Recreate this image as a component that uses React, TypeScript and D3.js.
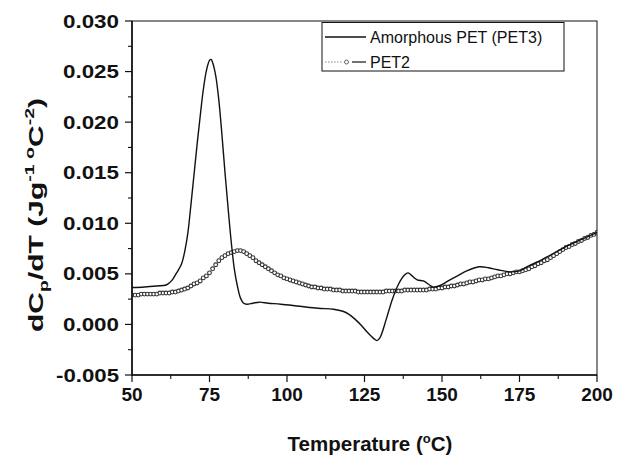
import React from "react";
import * as d3 from "d3";

// ---------- data ----------
const pet3Temps = [50, 54, 58, 61, 62, 63, 64, 65, 66, 67, 68, 69, 70, 71, 72, 73, 74, 75, 75.5, 76, 77, 78, 79, 80, 81, 82, 83, 84, 85, 86, 87, 89, 91, 94, 98, 104, 110, 115, 118, 120, 122, 124, 126, 128, 129, 130, 132, 134, 136, 138, 139, 140, 142, 144, 146, 147, 149, 152, 155, 158, 162, 165, 168, 172, 175, 178, 181, 184, 187, 190, 195, 200];
const pet3Values = [0.00365, 0.0037, 0.0038, 0.0039, 0.0041, 0.0044, 0.0049, 0.0054, 0.0060, 0.0072, 0.0090, 0.0118, 0.0148, 0.0178, 0.0206, 0.0232, 0.0251, 0.0261, 0.0262, 0.0259, 0.0246, 0.0222, 0.0188, 0.0150, 0.0115, 0.0082, 0.0055, 0.0038, 0.0026, 0.0021, 0.0020, 0.0021, 0.0022, 0.0021, 0.0020, 0.0018, 0.0016, 0.0015, 0.0013, 0.0010, 0.0005, -0.0001, -0.0008, -0.0014, -0.0016, -0.0013, 0.0005, 0.0025, 0.0040, 0.0049, 0.0051, 0.0049, 0.0044, 0.0043, 0.0039, 0.0037, 0.0038, 0.0043, 0.0048, 0.0053, 0.0057, 0.0056, 0.0054, 0.0052, 0.0053, 0.0058, 0.0062, 0.0067, 0.0072, 0.0077, 0.0084, 0.0091];

const pet2Temps = d3.range(50, 201, 1);
const pet2Values = [
  0.0029, 0.0029, 0.0029, 0.0030, 0.0030, 0.0030, 0.0030, 0.0030, 0.0030, 0.0031,
  0.0031, 0.0031, 0.0031, 0.0032, 0.0032, 0.0033, 0.0034, 0.0035, 0.0036, 0.0038,
  0.0040, 0.0041, 0.0043, 0.0046, 0.0048, 0.0051, 0.0055, 0.0059, 0.0063, 0.0066,
  0.0068, 0.0070, 0.0071, 0.0072, 0.0073, 0.0073, 0.0072, 0.0070, 0.0068, 0.0066,
  0.0063, 0.0061, 0.0059, 0.0057, 0.0055, 0.0053, 0.0051, 0.0049, 0.0048, 0.0046,
  0.0045, 0.0044, 0.0043, 0.0042, 0.0041, 0.0040, 0.0039, 0.0038, 0.0037, 0.0037,
  0.0036, 0.0036, 0.0035, 0.0035, 0.0035, 0.0034, 0.0034, 0.0034, 0.0033, 0.0033,
  0.0033, 0.0033, 0.0033, 0.0032, 0.0032, 0.0032, 0.0032, 0.0032, 0.0032, 0.0032,
  0.0032, 0.0032, 0.0033, 0.0033, 0.0033, 0.0033, 0.0033, 0.0033, 0.0034, 0.0034,
  0.0034, 0.0034, 0.0034, 0.0034, 0.0034, 0.0034, 0.0035, 0.0035, 0.0035, 0.0036,
  0.0036, 0.0037, 0.0037, 0.0038, 0.0038, 0.0039, 0.0040, 0.0040, 0.0041, 0.0042,
  0.0042, 0.0043, 0.0044, 0.0044, 0.0045, 0.0045, 0.0046, 0.0047, 0.0048, 0.0048,
  0.0049, 0.0050, 0.0050, 0.0051, 0.0052, 0.0052, 0.0053, 0.0054, 0.0055, 0.0057,
  0.0058, 0.0060, 0.0061, 0.0063, 0.0064, 0.0066, 0.0068, 0.0070, 0.0072, 0.0074,
  0.0076, 0.0077, 0.0079, 0.0080, 0.0082, 0.0083, 0.0085, 0.0086, 0.0088, 0.0089,
  0.0091,
];

const xTicks = [50, 75, 100, 125, 150, 175, 200];
const xMinorTicks = [62.5, 87.5, 112.5, 137.5, 162.5, 187.5];
const yTicks = [-0.005, 0, 0.005, 0.01, 0.015, 0.02, 0.025, 0.03];
const yMinorTicks = [-0.0025, 0.0025, 0.0075, 0.0125, 0.0175, 0.0225, 0.0275];
const seriesNames = ["Amorphous PET (PET3)", "PET2"];

// ---------- layout ----------
const W = 617, H = 457;
const L = 132, R = 597, T = 21, B = 375;
const FONT = "'Liberation Sans', Arial, Helvetica, sans-serif";

export default function App() {
  const x = d3.scaleLinear().domain([50, 200]).range([L, R]);
  const y = d3.scaleLinear().domain([-0.005, 0.03]).range([B, T]);

  const pet3 = pet3Temps.map((t, i) => [t, pet3Values[i]] as [number, number]);
  const pet2 = pet2Temps.map((t, i) => [t, pet2Values[i]] as [number, number]);

  const line = d3
    .line<[number, number]>()
    .x((d) => x(d[0]))
    .y((d) => y(d[1]))
    .curve(d3.curveCatmullRom.alpha(0.5));

  return (
    <svg
      width={W}
      height={H}
      style={{ position: "absolute", left: 0, top: 0, background: "#fff" }}
      fontFamily={FONT}
    >
      <rect x={0} y={0} width={W} height={H} fill="#fff" />
      <defs>
        <clipPath id="plotclip">
          <rect x={L} y={T} width={R - L} height={B - T} />
        </clipPath>
      </defs>

      {/* PET2 markers */}
      <g clipPath="url(#plotclip)">
        {pet2.map((d, i) => (
          <circle
            key={i}
            cx={x(d[0])}
            cy={y(d[1])}
            r={1.9}
            fill="#fff"
            stroke="#333"
            strokeWidth={1.1}
          />
        ))}
        <path d={line(pet3) || ""} fill="none" stroke="#111" strokeWidth={1.4} />
      </g>

      {/* frame */}
      <rect x={L} y={T} width={R - L} height={B - T} fill="none" stroke="#111" strokeWidth={1} />
      <line x1={L} x2={L} y1={T} y2={B + 0.5} stroke="#111" strokeWidth={1.6} />
      <line x1={L - 0.5} x2={R} y1={B} y2={B} stroke="#111" strokeWidth={1.6} />

      {/* x ticks */}
      {xTicks.map((t) => (
        <g key={"xt" + t}>
          <line x1={x(t)} x2={x(t)} y1={B} y2={B + 7} stroke="#111" strokeWidth={1.2} />
          <text
            x={x(t)}
            y={401}
            textAnchor="middle"
            fontSize={19}
            fontWeight="bold"
            fill="#111"
          >
            {t}
          </text>
        </g>
      ))}
      {xMinorTicks.map((t) => (
        <line key={"xm" + t} x1={x(t)} x2={x(t)} y1={B} y2={B + 4} stroke="#111" strokeWidth={1.1} />
      ))}

      {/* y ticks */}
      {yTicks.map((t) => {
        const label = d3.format(".3f")(t).replace("−", "-");
        return (
          <g key={"yt" + t}>
            <line x1={L - 7} x2={L} y1={y(t)} y2={y(t)} stroke="#111" strokeWidth={1.2} />
            <text
              x={119}
              y={y(t) + 6.5}
              textAnchor="end"
              fontSize={18}
              fontWeight="bold"
              fill="#111"
              textLength={label.startsWith("-") ? 63 : 56}
              lengthAdjust="spacingAndGlyphs"
            >
              {label}
            </text>
          </g>
        );
      })}
      {yMinorTicks.map((t) => (
        <line key={"ym" + t} x1={L - 4} x2={L} y1={y(t)} y2={y(t)} stroke="#111" strokeWidth={1.1} />
      ))}

      {/* axis titles */}
      <text x={370} y={451} textAnchor="middle" fontSize={20.5} fontWeight="bold" fill="#111">
        Temperature (
        <tspan dy={-8} fontSize={13}>o</tspan>
        <tspan dy={8}>C)</tspan>
      </text>
      <text
        transform={`translate(43,${215}) rotate(-90)`}
        textAnchor="middle"
        fontSize={20}
        fontWeight="bold"
        fill="#111"
        textLength={234}
        lengthAdjust="spacingAndGlyphs"
      >
        dC
        <tspan dy={5} fontSize={13}>p</tspan>
        <tspan dy={-5}>/dT (Jg</tspan>
        <tspan dy={-9} fontSize={13}>-1</tspan>
        <tspan dy={0} fontSize={13}> o</tspan>
        <tspan dy={9}>C</tspan>
        <tspan dy={-9} fontSize={13}>-2</tspan>
        <tspan dy={9}>)</tspan>
      </text>

      {/* legend */}
      <rect x={322} y={22.5} width={242} height={48.5} fill="#fff" stroke="#111" strokeWidth={1} />
      <line x1={325} x2={366} y1={37} y2={37} stroke="#111" strokeWidth={1.4} />
      <text x={370} y={42.5} fontSize={16} fill="#111">
        {seriesNames[0]}
      </text>
      <line x1={325} x2={343} y1={62} y2={62} stroke="#888" strokeWidth={1} strokeDasharray="1.5,1.5" />
      <circle cx={346.5} cy={62} r={2} fill="#fff" stroke="#555" strokeWidth={0.9} />
      <line x1={352} x2={366} y1={62} y2={62} stroke="#111" strokeWidth={1.2} />
      <text x={370} y={67.5} fontSize={16} fill="#111">
        {seriesNames[1]}
      </text>
    </svg>
  );
}
